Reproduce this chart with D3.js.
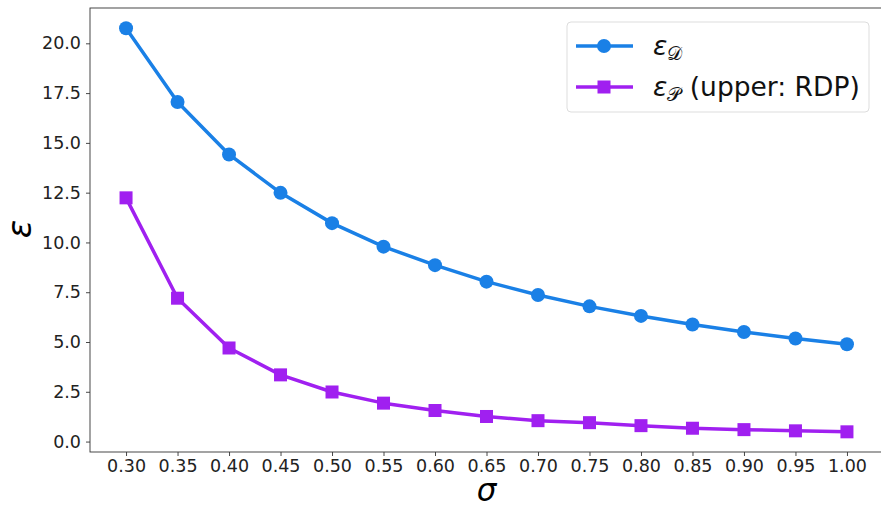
<!DOCTYPE html>
<html>
<head>
<meta charset="utf-8">
<script src="https://cdn.jsdelivr.net/npm/d3@7"></script>
<style>
	body { margin: 0; background: #fff; }
	svg { display: block; font-family: 'DejaVu Sans', sans-serif; }
	.tick text { font-family: 'DejaVu Sans', sans-serif; font-size: 17.5px; fill: #222; }
</style>
</head>
<body>
<svg id="chart" width="881" height="508"></svg>
<script>
// noise scales (sigma)
const sigmas = [ 0.30, 0.35, 0.40, 0.45, 0.50, 0.55, 0.60, 0.65, 0.70, 0.75, 0.80, 0.85, 0.90, 0.95, 1.00 ];

// epsilon_D
const epsD = [ 20.76, 17.05, 14.42, 12.49, 10.97, 9.79, 8.86, 8.03, 7.36, 6.79, 6.31, 5.88, 5.50, 5.18, 4.89 ];

// epsilon_P upper bound (RDP)
const epsP = [ 12.24, 7.20, 4.70, 3.35, 2.49, 1.93, 1.56, 1.26, 1.05, 0.95, 0.80, 0.67, 0.60, 0.54, 0.49 ];

const yTicks = [ 0, 2.5, 5, 7.5, 10, 12.5, 15, 17.5, 20 ];

const series = [
	{ name: 'D', values: epsD, color: '#1a80e6', marker: 'circle', rest: '' },
	{ name: 'P', values: epsP, color: '#a020f0', marker: 'square', rest: ' (upper: RDP)' },
];

const margin = { top: 8, right: -2, bottom: 56, left: 90 };
const width = 881 - margin.left - margin.right;
const height = 508 - margin.top - margin.bottom;

const svg = d3.select( '#chart' );
const g = svg.append( 'g' )
	.attr( 'transform', `translate(${ margin.left },${ margin.top })` );

// matplotlib-like 5% padding
const xExt = d3.extent( sigmas );
const xPad = ( xExt[ 1 ] - xExt[ 0 ] ) * 0.05;
const allY = epsD.concat( epsP );
const yExt = d3.extent( allY );
const yPad = ( yExt[ 1 ] - yExt[ 0 ] ) * 0.05;

const x = d3.scaleLinear()
	.domain( [ xExt[ 0 ] - xPad, xExt[ 1 ] + xPad ] )
	.range( [ 0, width ] );

const y = d3.scaleLinear()
	.domain( [ yExt[ 0 ] - yPad, yExt[ 1 ] + yPad ] )
	.range( [ height, 0 ] );

// axes
const xAxis = g.append( 'g' )
	.attr( 'transform', `translate(0,${ height })` )
	.call( d3.axisBottom( x ).tickValues( sigmas ).tickFormat( d3.format( '.2f' ) ).tickSize( 4 ).tickPadding( 4 ) );

const yAxis = g.append( 'g' )
	.call( d3.axisLeft( y ).tickValues( yTicks ).tickFormat( d3.format( '.1f' ) ).tickSize( 4 ).tickPadding( 5 ) );

[ xAxis, yAxis ].forEach( ( ax ) => {
	ax.attr( 'font-family', null ).attr( 'font-size', null );
	ax.select( '.domain' ).remove();
	ax.selectAll( '.tick line' ).attr( 'stroke', '#333' ).attr( 'stroke-width', 0.9 );
} );

// frame
g.append( 'rect' )
	.attr( 'width', width )
	.attr( 'height', height )
	.attr( 'fill', 'none' )
	.attr( 'stroke', '#333' )
	.attr( 'stroke-width', 0.9 );

// lines + markers
const line = d3.line()
	.x( ( d, i ) => x( sigmas[ i ] ) )
	.y( ( d ) => y( d ) );

series.forEach( ( s ) => {
	g.append( 'path' )
		.datum( s.values )
		.attr( 'fill', 'none' )
		.attr( 'stroke', s.color )
		.attr( 'stroke-width', 3.5 )
		.attr( 'stroke-linejoin', 'round' )
		.attr( 'd', line );

	if ( s.marker === 'circle' ) {
		g.selectAll( null )
			.data( s.values )
			.enter()
			.append( 'circle' )
			.attr( 'cx', ( d, i ) => x( sigmas[ i ] ) )
			.attr( 'cy', ( d ) => y( d ) )
			.attr( 'r', 7 )
			.attr( 'fill', s.color );
	} else {
		g.selectAll( null )
			.data( s.values )
			.enter()
			.append( 'rect' )
			.attr( 'x', ( d, i ) => x( sigmas[ i ] ) - 6.5 )
			.attr( 'y', ( d ) => y( d ) - 6.5 )
			.attr( 'width', 13 )
			.attr( 'height', 13 )
			.attr( 'fill', s.color );
	}
} );

// axis labels
svg.append( 'text' )
	.attr( 'transform', 'translate(31,229) rotate(-90)' )
	.attr( 'text-anchor', 'middle' )
	.style( 'font-size', '34px' )
	.style( 'font-style', 'italic' )
	.text( '\u03b5' );

svg.append( 'text' )
	.attr( 'x', margin.left + width / 2 )
	.attr( 'y', 501 )
	.attr( 'text-anchor', 'middle' )
	.style( 'font-size', '31px' )
	.style( 'font-style', 'italic' )
	.text( '\u03c3' );

// legend
const legend = svg.append( 'g' ).attr( 'transform', 'translate(567,22)' );
legend.append( 'rect' )
	.attr( 'width', 302 )
	.attr( 'height', 90 )
	.attr( 'rx', 4 )
	.attr( 'fill', '#fff' )
	.attr( 'fill-opacity', 0.8 )
	.attr( 'stroke', '#ddd' );

series.forEach( ( s, i ) => {
	const row = legend.append( 'g' ).attr( 'transform', `translate(0,${ 24 + i * 41 })` );
	row.append( 'line' )
		.attr( 'x1', 9 )
		.attr( 'x2', 66 )
		.attr( 'stroke', s.color )
		.attr( 'stroke-width', 3.5 );
	if ( s.marker === 'circle' ) {
		row.append( 'circle' ).attr( 'cx', 37 ).attr( 'r', 7 ).attr( 'fill', s.color );
	} else {
		row.append( 'rect' ).attr( 'x', 30.5 ).attr( 'y', -6.5 ).attr( 'width', 13 ).attr( 'height', 13 ).attr( 'fill', s.color );
	}
	const t = row.append( 'text' )
		.attr( 'x', 86 )
		.attr( 'y', 9 )
		.style( 'font-size', '26.5px' )
		.attr( 'fill', '#111' );
	t.append( 'tspan' ).style( 'font-style', 'italic' ).text( '\u03b5' );
	t.append( 'tspan' )
		.attr( 'dy', 5 )
		.style( 'font-size', '19px' )
		.text( s.name === 'D' ? '\ud835\udc9f' : '\ud835\udcab' );
	if ( s.rest ) {
		t.append( 'tspan' ).attr( 'dy', -5 ).text( s.rest );
	}
} );
</script>
</body>
</html>
